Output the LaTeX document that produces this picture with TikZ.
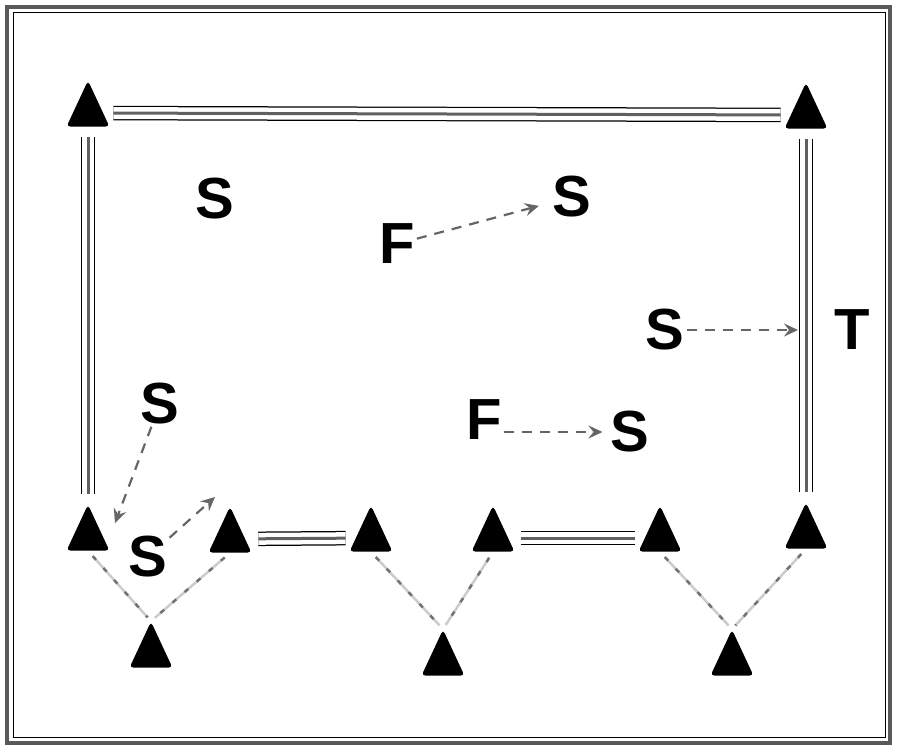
\documentclass[tikz,border=0pt]{standalone}
\usepackage{fontspec}
\setsansfont{Liberation Sans}
\usetikzlibrary{arrows.meta,shapes.geometric,calc}
\tikzset{
Rail/.style={
 preaction={draw=black, line width=14.5pt},
 preaction={draw=white, line width=12pt},
 draw=gray!75!black, line width=3pt,
 shorten <=10pt, shorten >=10pt
 },
Lien/.style={
 draw=gray!40, line width=2.5pt,
 shorten <=7pt, shorten >=5pt,
 postaction={draw=gray!90!black, dash pattern=on 5pt off 11pt}
 },
Fleche/.style={
 draw=gray!80!black, line width=2.2pt,
 dash pattern=on 10pt off 8pt,
 -{Stealth[length=14pt, width=13pt, inset=5pt]}
 },
Cone/.style={
 isosceles triangle,
 shape border rotate=90,
 isosceles triangle apex angle=50,
 fill=black,
 rounded corners=4pt,
 inner sep=0pt,
 minimum width=43pt,
 minimum height=43pt
 },
Lettre/.style={
 font=\sffamily\bfseries\fontsize{58}{62}\selectfont,
 inner sep=2pt
 }
}
\begin{document}
\begin{tikzpicture}[x=1pt,y=-1pt]
\useasboundingbox (0,0) rectangle (900,752);
\draw[gray!70!black, line width=3.5pt] (7,7) rectangle (890,743);
\draw[black, line width=1pt] (13,13) rectangle (885,737);
% triangles
\node[Cone] (nw) at (88,113) {};
\node[Cone] (ne) at (806,115) {};
\node[Cone] (b1) at (88,537) {};
\node[Cone] (b2) at (230,539) {};
\node[Cone] (b3) at (371,538) {};
\node[Cone] (b4) at (493,538) {};
\node[Cone] (b5) at (660,538) {};
\node[Cone] (b6) at (806,535) {};
\node[Cone] (v1) at (151,654) {};
\node[Cone] (v2) at (443,662) {};
\node[Cone] (v3) at (732,662) {};
% rails
\draw[Rail] (nw) -- (ne);
\draw[Rail] (nw) -- (b1);
\draw[Rail] (ne) -- (b6);
\draw[Rail, shorten <=13pt] (b2) -- (b3);
\draw[Rail, shorten <=13pt] (b4) -- (b5);
% links
\draw[Lien] (b1.lower side) -- (v1.apex);
\draw[Lien] (b2.lower side) -- (v1.apex);
\draw[Lien] (b3.lower side) -- (v2.apex);
\draw[Lien] (b4.lower side) -- (v2.apex);
\draw[Lien] (b5.lower side) -- (v3.apex);
\draw[Lien] (b6.lower side) -- (v3.apex);
% letters
\node[Lettre] (s1) at (215,199) {S};
\node[Lettre] (f1) at (397,244) {F};
\node[Lettre] (s2) at (572,197) {S};
\node[Lettre] (s3) at (665,330) {S};
\node[Lettre] (t1) at (852,330) {T};
\node[Lettre] (f2) at (484,420) {F};
\node[Lettre] (s4) at (630,432) {S};
\node[Lettre] (s5) at (160,404) {S};
\node[Lettre] (s6) at (148,557) {S};
% arrows
\coordinate (hit) at ($(ne)!(s3)!(b6)$);
\coordinate (drop) at (115,523);
\coordinate (lift) at (215,497);
\draw[Fleche, shorten >=12pt] (f1) -- (s2);
\draw[Fleche, shorten >=8pt] (s3) -- (hit);
\draw[Fleche, shorten >=6pt] (f2.east |- s4) -- (s4);
\draw[Fleche] (s5) -- (drop);
\draw[Fleche] (s6) -- (lift);
\end{tikzpicture}
\end{document}
